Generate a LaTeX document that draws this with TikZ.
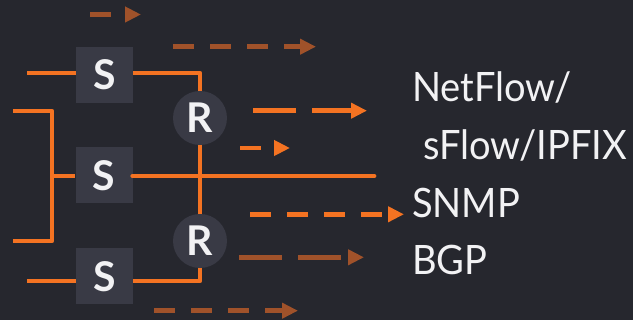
\documentclass[tikz,border=0pt]{standalone}
\usepackage{fontspec}
\setmainfont{Lato}
\newfontfamily\lblfont[FakeStretch=0.94]{Lato}
\usetikzlibrary{arrows.meta}
\definecolor{bg}{HTML}{26272E}
\definecolor{boxc}{HTML}{393A45}
\definecolor{org}{HTML}{F47322}
\definecolor{brn}{HTML}{A0522A}
\definecolor{txt}{HTML}{F2F2F4}
\tikzset{
  wire/.style={draw=org, line width=4.8pt, line join=round},
  sbox/.style={fill=boxc, minimum width=57pt, minimum height=56pt, inner sep=0pt, text=txt, font=\fontsize{41}{41}\selectfont\bfseries},
  rnode/.style={circle, fill=boxc, minimum size=54pt, inner sep=0pt, text=txt, font=\fontsize{41}{41}\selectfont\bfseries},
  lbl/.style={anchor=base west, inner sep=0pt, text=txt, font=\lblfont\fontsize{40.5}{40.5}\selectfont},
  shortd/.style={dash pattern=on 21pt off 16pt},
  longd/.style={dash pattern=on 43pt off 16pt},
  flow/.style={line width=4.8pt, -{Triangle[length=16pt,width=15pt]}},
}
\begin{document}
\begin{tikzpicture}[x=1pt,y=-1pt]
\fill[bg] (0,0) rectangle (633,320);
\useasboundingbox (0,0) rectangle (633,320);
% nodes
\node[sbox] (s1) at (104.5,75) {S};
\node[sbox] (s2) at (104,175.5) {S};
\node[sbox] (s3) at (104.5,276.5) {S};
\node[rnode] (r1) at (200,118) {R};
\node[rnode] (r2) at (200,241) {R};
% wire coordinates
\coordinate (a1) at (27,73);
\coordinate (a3) at (27,281);
\coordinate (b1) at (13,111);
\coordinate (b2) at (13,241);
\coordinate (bj) at (52,176);
\coordinate (mend) at (374,176);
% wires
\draw[wire] (a1) -- (a1 -| s1.west);
\draw[wire] (a1 -| s1.east) -| (r1.north);
\draw[wire] (r1.south) -- (r2.north);
\draw[wire] (r2.south) |- (a3 -| s3.east);
\draw[wire] (a3) -- (a3 -| s3.west);
\draw[wire] (b1) -| (bj) |- (b2);
\draw[wire] (bj) -- (bj -| s2.west);
\draw[wire, line cap=round] (bj -| s2.east) -- (mend);
% labels
\node[lbl] (l1) at (412,102) {NetFlow/};
\node[lbl] (l2) at (423,160) {sFlow/IPFIX};
\node[lbl] (l3) at (412,218) {SNMP};
\node[lbl] (l4) at (412,275) {BGP};
% flow arrows
\coordinate (f1s) at (90,14.5);   \coordinate (f1e) at (141,14.5);
\coordinate (f2s) at (173,46.7);  \coordinate (f2e) at (316,46.7);
\coordinate (f3s) at (253,110.7); \coordinate (f3e) at (367,110.7);
\coordinate (f4s) at (240,148);   \coordinate (f4e) at (290,148);
\coordinate (f5s) at (250,214.3); \coordinate (f5e) at (404,214.3);
\coordinate (f6s) at (239,257.3); \coordinate (f6e) at (364,257.3);
\coordinate (f7s) at (154,310.7); \coordinate (f7e) at (298,310.7);
\draw[flow, brn, shortd] (f1s) -- (f1e);
\draw[flow, brn, shortd] (f2s) -- (f2e);
\draw[flow, org, longd] (f3s) -- (f3e);
\draw[flow, org, shortd] (f4s) -- (f4e);
\draw[flow, org, shortd] (f5s) -- (f5e);
\draw[flow, brn, longd] (f6s) -- (f6e);
\draw[flow, brn, shortd] (f7s) -- (f7e);
\end{tikzpicture}
\end{document}
